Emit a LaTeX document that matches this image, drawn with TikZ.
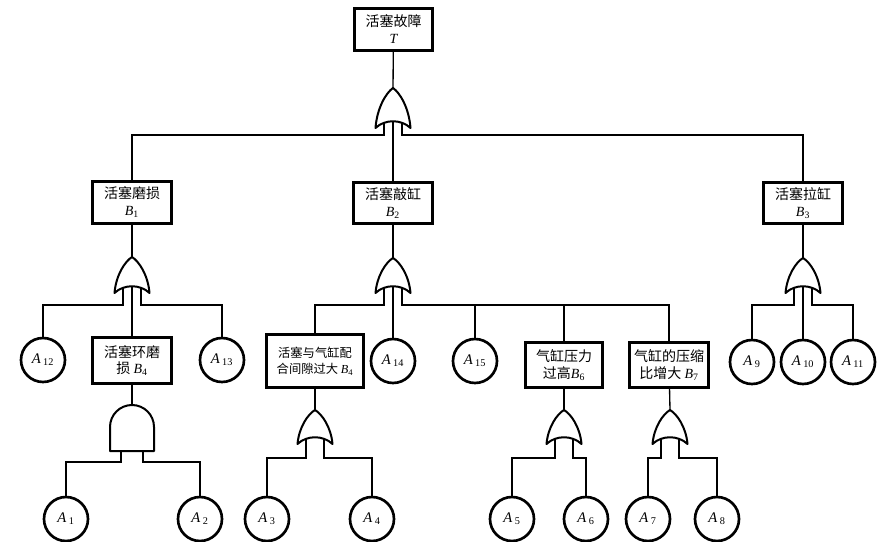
\documentclass[tikz,border=0pt]{standalone}
\usepackage{fontspec}
\setmainfont{Liberation Serif}
\newfontfamily\cjk{Noto Sans CJK SC}
\newcommand\lab[2]{{\rmfamily\itshape #1}\textsubscript{\rmfamily #2}}
\newcommand\clab[2]{{\itshape #1}\,\textsubscript{#2}}
\tikzset{
  evbox/.style={inner sep=0pt, align=center,
    font=\fontsize{10.5}{12.5}\selectfont\cjk},
  smallbox/.style={evbox, font=\fontsize{9.2}{12}\selectfont\cjk},
  boxline/.style={line width=2pt},
  evt/.style={draw, circle, line width=2pt, inner sep=0pt,
    minimum size=44*0.75pt, font=\fontsize{11}{12}\selectfont},
  conn/.style={line width=1pt},
  gate/.style={line width=1.5pt, fill=white, line join=round},
  pics/orgate/.style={code={
    \draw[gate] (-17.5,#1) .. controls (-16,0.5*#1) and (-7,0.12*#1) .. (0,0)
      .. controls (7,0.12*#1) and (16,0.5*#1) .. (17.5,#1)
      .. controls (8,#1-9) and (-8,#1-9) .. (-17.5,#1) -- cycle;
    \coordinate (-top) at (0,0);
    \coordinate (-l) at (-9,#1-5);
    \coordinate (-m) at (0,#1-6.75);
    \coordinate (-r) at (9,#1-5);
  }},
  pics/andgate/.style={code={
    \draw[gate] (-22,46) -- (-22,22) .. controls (-22,9.85) and (-12.15,0) .. (0,0)
      .. controls (12.15,0) and (22,9.85) .. (22,22) -- (22,46) -- cycle;
    \coordinate (-top) at (0,0);
    \coordinate (-l) at (-11,46);
    \coordinate (-r) at (11,46);
  }}
}
\begin{document}
\begin{tikzpicture}[x=0.75pt,y=-0.75pt]
\useasboundingbox (0,0) rectangle (891,559);
\clip (0,0) rectangle (891,541);

% bus levels
\coordinate (bus0) at (0,135);
\coordinate (bus1) at (0,305);
\coordinate (bus4) at (0,462);
\coordinate (bus5) at (0,458);

% top event
\node[evbox, minimum width=77*0.75pt, minimum height=41*0.75pt, font=\fontsize{10.5}{12.75}\selectfont\cjk] (T) at (393.5,29.5) {活塞故障\\{\rmfamily\itshape T}};
\pic (g0) at (393,88) {orgate=40};

% level 1
\node[evbox, minimum width=78*0.75pt, minimum height=41*0.75pt] (B1) at (132,202.5) {活塞磨损\\\lab{B}{1}};
\node[evbox, minimum width=78*0.75pt, minimum height=40*0.75pt] (B2) at (393,203) {活塞敲缸\\\lab{B}{2}};
\node[evbox, minimum width=78*0.75pt, minimum height=40*0.75pt] (B3) at (803,203) {活塞拉缸\\\lab{B}{3}};

\pic (g1) at (132,257) {orgate=36};
\pic (g2) at (393,258) {orgate=35};
\pic (g3) at (803,258) {orgate=35};

% level 2
\node[evt] (A12) at (43,360) {\clab{A}{12}};
\node[evbox, minimum width=78*0.75pt, minimum height=45*0.75pt] (B4) at (132,360.5) {活塞环磨\\损 \lab{B}{4}};
\node[evt] (A13) at (222,360) {\clab{A}{13}};

\node[smallbox, minimum width=97*0.75pt, minimum height=53*0.75pt] (B5) at (315,361) {活塞与气缸配\\合间隙过大 \lab{B}{4}};
\node[evt] (A14) at (393,361) {\clab{A}{14}};
\node[evt] (A15) at (475,361) {\clab{A}{15}};
\node[evbox, minimum width=76*0.75pt, minimum height=44*0.75pt] (B6) at (564,365) {气缸压力\\过高\lab{B}{6}};
\node[evbox, minimum width=78*0.75pt, minimum height=44*0.75pt] (B7) at (669,365) {气缸的压缩\\比增大 \lab{B}{7}};

\node[evt] (A9) at (752,362) {\clab{A}{9}};
\node[evt] (A10) at (803,362) {\clab{A}{10}};
\node[evt] (A11) at (853,362) {\clab{A}{11}};

% box borders
\foreach \b in {T,B1,B2,B3,B4,B5,B6,B7}
  \draw[boxline] (\b.south west) rectangle (\b.north east);

% level 2 gates
\pic (g4) at (132,405) {andgate};
\pic (g5) at (315,410) {orgate=34};
\pic (g6) at (564,410) {orgate=34};
\pic (g7) at (670,410) {orgate=34};

% basic events bottom
\node[evt] (A1) at (66,519) {\clab{A}{1}};
\node[evt] (A2) at (200,519) {\clab{A}{2}};
\node[evt] (A3) at (267,519) {\clab{A}{3}};
\node[evt] (A4) at (372,519) {\clab{A}{4}};
\node[evt] (A5) at (512,519) {\clab{A}{5}};
\node[evt] (A6) at (586,519) {\clab{A}{6}};
\node[evt] (A7) at (648,519) {\clab{A}{7}};
\node[evt] (A8) at (717,519) {\clab{A}{8}};

% connectors
\draw[conn] (T) -- (g0-top);
\draw[conn] (g0-l) -- (g0-l |- bus0) -| (B1.north);
\draw[conn] (g0-m) -- (B2.north);
\draw[conn] (g0-r) -- (g0-r |- bus0) -| (B3.north);

\draw[conn] (B1) -- (g1-top);
\draw[conn] (g1-l) -- (g1-l |- bus1) -| (A12.north);
\draw[conn] (g1-m) -- (B4.north);
\draw[conn] (g1-r) -- (g1-r |- bus1) -| (A13.north);

\draw[conn] (B2) -- (g2-top);
\draw[conn] (g2-l) -- (g2-l |- bus1) -| (B5.north);
\draw[conn] (g2-m) -- (A14.north);
\draw[conn] (g2-r) -- (g2-r |- bus1) -| (B7.north);
\draw[conn] (A15.north |- bus1) -- (A15.north);
\draw[conn] (B6.north |- bus1) -- (B6.north);

\draw[conn] (B3) -- (g3-top);
\draw[conn] (g3-l) -- (g3-l |- bus1) -| (A9.north);
\draw[conn] (g3-m) -- (A10.north);
\draw[conn] (g3-r) -- (g3-r |- bus1) -| (A11.north);

\draw[conn] (B4) -- (g4-top);
\draw[conn] (g4-l) -- (g4-l |- bus4) -| (A1.north);
\draw[conn] (g4-r) -- (g4-r |- bus4) -| (A2.north);

\draw[conn] (B5) -- (g5-top);
\draw[conn] (g5-l) -- (g5-l |- bus5) -| (A3.north);
\draw[conn] (g5-r) -- (g5-r |- bus5) -| (A4.north);

\draw[conn] (B6) -- (g6-top);
\draw[conn] (g6-l) -- (g6-l |- bus5) -| (A5.north);
\draw[conn] (g6-r) -- (g6-r |- bus5) -| (A6.north);

\draw[conn] (B7) -- (g7-top);
\draw[conn] (g7-l) -- (g7-l |- bus5) -| (A7.north);
\draw[conn] (g7-r) -- (g7-r |- bus5) -| (A8.north);
\end{tikzpicture}
\end{document}
